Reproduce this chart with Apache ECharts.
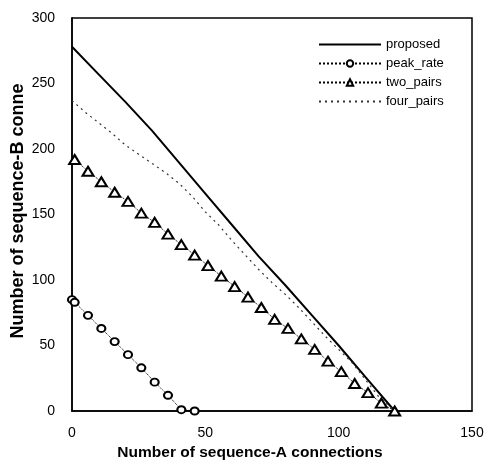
<!DOCTYPE html>
<html>
<head>
<meta charset="utf-8">
<script src="https://cdn.jsdelivr.net/npm/echarts@6/dist/echarts.min.js"></script>
<style>
  html, body { margin: 0; padding: 0; background: #fff; }
  #chart { width: 487px; height: 463px; }
</style>
</head>
<body>
<div id="chart"></div>
<script>
// Admissible region: sequence-A vs sequence-B connections
const proposedX = [0, 10, 20, 30, 40, 50, 60, 70, 80, 90, 100, 110, 121];
const proposedY = [278, 257, 236, 214, 190, 166, 142, 118, 96, 73, 50, 26, 0];

const peakRateX = [0, 1, 6, 11, 16, 21, 26, 31, 36, 41, 46];
const peakRateY = [85, 83, 73, 63, 53, 43, 33, 22, 12, 1, 0];

const twoPairsX = [1, 6, 11, 16, 21, 26, 31, 36, 41, 46, 51, 56, 61, 66, 71, 76, 81, 86, 91, 96, 101, 106, 111, 116, 121];
const twoPairsY = [192, 183, 175, 167, 160, 151, 144, 135, 127, 119, 111, 103, 95, 87, 79, 70, 63, 55, 47, 38, 30, 21, 14, 6, 0];

const fourPairsX = [0, 5, 10, 15, 20, 25, 30, 35, 40, 45, 50, 55, 60, 65, 70, 75, 80, 85, 90, 95, 100, 105, 110, 115, 121];
const fourPairsY = [237, 228, 220, 212, 203, 196, 189, 182, 174, 164, 152, 142, 130, 119, 108, 98, 89, 79, 68, 57, 47, 37, 24, 11, 0];

const xTicks = [0, 50, 100, 150];
const yTicks = [0, 50, 100, 150, 200, 250, 300];

const xTitle = 'Number of sequence-A connections';
const yTitle = 'Number of sequence-B connections';

const pairs = (xs, ys) => xs.map((x, i) => [x, ys[i]]);

const FONT = '"Liberation Sans", Arial, sans-serif';
const HIDDEN = { color: 'rgba(0,0,0,0)', borderColor: 'rgba(0,0,0,0)', borderWidth: 0 };

const chart = echarts.init(document.getElementById('chart'), null, { renderer: 'canvas' });

chart.setOption({
  animation: false,
  backgroundColor: '#ffffff',
  grid: {
    left: 72, right: 15, top: 18, bottom: 52,
    outerBoundsMode: 'none',
    show: true, borderColor: '#000', borderWidth: 1.5, backgroundColor: 'transparent'
  },
  legend: {
    orient: 'vertical',
    left: 318, top: 38, padding: 0,
    itemWidth: 62, itemHeight: 8, itemGap: 6,
    textStyle: { fontFamily: FONT, fontSize: 13, color: '#000' },
    data: [
      { name: 'proposed', itemStyle: HIDDEN },
      { name: 'peak_rate' },
      { name: 'two_pairs' },
      { name: 'four_pairs', itemStyle: HIDDEN }
    ]
  },
  // y title runs past the top of the plot and is cut short there
  graphic: [{
    type: 'text',
    x: 18, y: 211,
    rotation: Math.PI / 2,
    style: {
      text: yTitle,
      width: 262, overflow: 'truncate', ellipsis: '',
      font: 'bold 18px ' + FONT,
      fill: '#000',
      align: 'center', verticalAlign: 'middle'
    }
  }],
  xAxis: {
    type: 'value',
    min: xTicks[0], max: xTicks[xTicks.length - 1], interval: 50,
    name: xTitle,
    nameLocation: 'middle', nameGap: 33,
    nameTextStyle: { fontFamily: FONT, fontSize: 15.5, fontWeight: 'bold', color: '#000', padding: [0, 44, 0, 0] },
    axisLine: { lineStyle: { color: '#000', width: 1.5 } },
    axisTick: { show: false },
    splitLine: { show: false },
    axisLabel: { fontFamily: FONT, fontSize: 14, color: '#000', margin: 15 }
  },
  yAxis: {
    type: 'value',
    min: yTicks[0], max: yTicks[yTicks.length - 1], interval: 50,
    axisLine: { lineStyle: { color: '#000', width: 1.5 } },
    axisTick: { show: false },
    splitLine: { show: false },
    axisLabel: { fontFamily: FONT, fontSize: 14, color: '#000', margin: 17 }
  },
  series: [
    {
      name: 'proposed', type: 'line',
      data: pairs(proposedX, proposedY),
      symbol: 'none',
      lineStyle: { color: '#000', width: 2, type: 'solid' },
      itemStyle: { color: '#000' }
    },
    {
      name: 'peak_rate', type: 'line',
      data: pairs(peakRateX, peakRateY),
      symbol: 'emptyCircle', symbolSize: [8, 7],
      lineStyle: { color: '#000', width: 1, type: 'dotted' },
      itemStyle: { color: '#000', borderColor: '#000', borderWidth: 2 }
    },
    {
      name: 'two_pairs', type: 'line',
      data: pairs(twoPairsX, twoPairsY),
      symbol: 'emptyTriangle', symbolSize: [11, 9],
      lineStyle: { color: '#000', width: 1, type: 'dotted' },
      itemStyle: { color: '#000', borderColor: '#000', borderWidth: 2 }
    },
    {
      name: 'four_pairs', type: 'line',
      data: pairs(fourPairsX, fourPairsY),
      symbol: 'none',
      lineStyle: { color: '#333', width: 1.2, type: [2, 4] },
      itemStyle: { color: '#000' }
    }
  ]
});
</script>
</body>
</html>
